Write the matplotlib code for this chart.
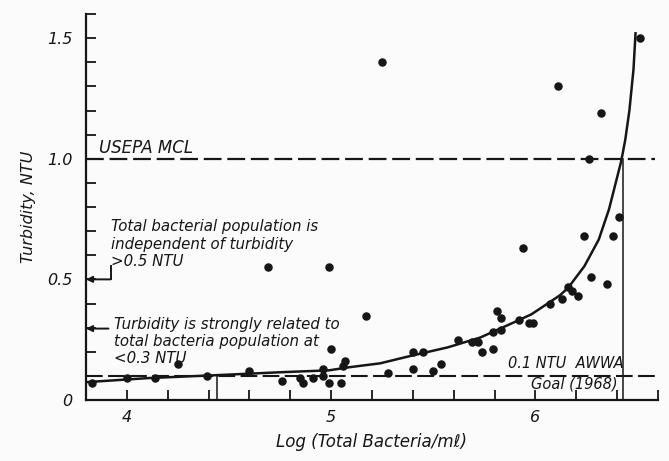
import matplotlib.pyplot as plt
import numpy as np
from matplotlib.ticker import MultipleLocator

# measured points: log(total bacteria / ml) vs turbidity (NTU)
log_bact = [3.83, 4.00, 4.14, 4.25, 4.39, 4.60, 4.69, 4.76, 4.85, 4.86,
            4.91, 4.96, 4.96, 4.99, 4.99, 5.00, 5.05, 5.06, 5.07, 5.17,
            5.25, 5.28, 5.40, 5.40, 5.45, 5.50, 5.54, 5.62, 5.69, 5.72,
            5.74, 5.79, 5.79, 5.83, 5.83, 5.81, 5.92, 5.94, 5.97, 5.99,
            6.07, 6.11, 6.13, 6.16, 6.18, 6.21, 6.24, 6.26, 6.27, 6.32,
            6.35, 6.38, 6.41, 6.51]
turbidity = [0.07, 0.09, 0.09, 0.15, 0.10, 0.12, 0.55, 0.08, 0.09, 0.07,
             0.09, 0.13, 0.10, 0.07, 0.55, 0.21, 0.07, 0.14, 0.16, 0.35,
             1.40, 0.11, 0.20, 0.13, 0.20, 0.12, 0.15, 0.25, 0.24, 0.24,
             0.20, 0.28, 0.21, 0.29, 0.34, 0.37, 0.33, 0.63, 0.32, 0.32,
             0.40, 1.30, 0.42, 0.47, 0.45, 0.43, 0.68, 1.00, 0.51, 1.19,
             0.48, 0.68, 0.76, 1.50]

# fitted curve
curve_x = [3.80, 4.11, 4.44, 4.75, 4.99, 5.09, 5.24, 5.40, 5.57, 5.73,
           5.89, 5.98, 6.06, 6.12, 6.16, 6.24, 6.31, 6.36, 6.39, 6.42,
           6.44, 6.46, 6.48, 6.49]
curve_y = [0.074, 0.091, 0.103, 0.115, 0.123, 0.136, 0.152, 0.185, 0.218, 0.259,
           0.320, 0.355, 0.400, 0.434, 0.465, 0.555, 0.665, 0.790, 0.890, 0.990,
           1.08, 1.20, 1.37, 1.52]

usepa_mcl = 1.0
awwa_goal = 0.1
vline_hi = (6.43, 1.0)
vline_lo = (4.44, 0.103)

ink = '#161616'
plt.rcParams['font.family'] = 'DejaVu Sans'
plt.rcParams['font.style'] = 'italic'

fig = plt.figure(figsize=(6.69, 4.61), dpi=100, facecolor='#fbfbfb')
ax = fig.add_axes([86/669, 61/461, 572/669, 386/461])
ax.set_facecolor('#fbfbfb')

ax.set_xlim(3.8, 6.6)
ax.set_ylim(0, 1.6)

# reference lines
dash = (0, (8, 2.6))
ax.axhline(usepa_mcl, color=ink, lw=1.6, ls=dash, xmax=0.995)
ax.axhline(awwa_goal, color=ink, lw=1.5, ls=dash, xmax=0.995)
ax.plot([vline_hi[0]] * 2, [0, vline_hi[1]], color=ink, lw=1.1)
ax.plot([vline_lo[0]] * 2, [0, vline_lo[1]], color=ink, lw=1.1)

ax.plot(curve_x, curve_y, color=ink, lw=1.8, solid_joinstyle='round')
ax.scatter(log_bact, turbidity, s=26, color=ink, zorder=3, clip_on=False)

# text
ax.text(3.862, 1.045, 'USEPA MCL', fontsize=12, color=ink, va='center')
ax.text(6.432, 0.152, '0.1 NTU  AWWA', fontsize=10.5, color=ink, va='center', ha='right')
ax.text(6.403, 0.066, 'Goal (1968)', fontsize=10.5, color=ink, va='center', ha='right')

ax.text(3.92, 0.646, 'Total bacterial population is\nindependent of turbidity\n>0.5 NTU',
        fontsize=10.8, color=ink, va='center', linespacing=1.2)
ax.text(3.936, 0.243, 'Turbidity is strongly related to\ntotal bacteria population at\n<0.3 NTU',
        fontsize=10.8, color=ink, va='center', linespacing=1.15)

arrow = dict(arrowstyle='-|>', color=ink, lw=1.4, mutation_scale=9, shrinkA=0, shrinkB=0)
ax.plot([3.92, 3.92], [0.555, 0.5], color=ink, lw=1.4)
ax.annotate('', xy=(3.8, 0.5), xytext=(3.92, 0.5), arrowprops=arrow)
ax.annotate('', xy=(3.8, 0.296), xytext=(3.91, 0.296), arrowprops=arrow)

# axes styling
for s in ['top', 'right']:
    ax.spines[s].set_visible(False)
for s in ['left', 'bottom']:
    ax.spines[s].set_linewidth(1.6)
    ax.spines[s].set_color(ink)

ax.set_xticks([4, 5, 6])
ax.set_xticklabels(['4', '5', '6'])
ax.xaxis.set_minor_locator(MultipleLocator(0.2))
ax.set_yticks([0, 0.5, 1.0, 1.5])
ax.set_yticklabels(['0', '0.5', '1.0', '1.5'])
ax.yaxis.set_minor_locator(MultipleLocator(0.1))
ax.tick_params(which='both', direction='in', length=7, width=1.3, color=ink,
               labelsize=11.5, labelcolor=ink)
ax.tick_params(axis='y', pad=10)
ax.tick_params(axis='x', pad=7)

ax.set_xlabel('Log (Total Bacteria/m\u2113)', fontsize=12, color=ink, labelpad=6)
ax.set_ylabel('Turbidity, NTU', fontsize=11.5, color=ink, labelpad=8)

fig.savefig('out.png', dpi=100, facecolor=fig.get_facecolor())
